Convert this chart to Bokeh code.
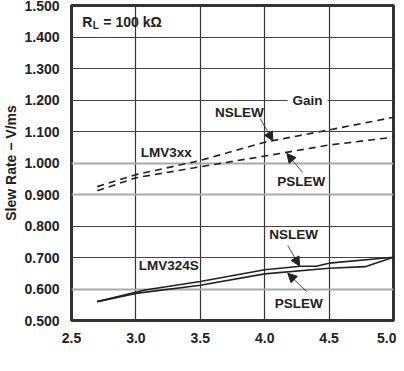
from bokeh.plotting import figure
from bokeh.models import Label, Arrow, NormalHead, FixedTicker, Grid, Range1d, PrintfTickFormatter
from bokeh.embed import file_html
from bokeh.resources import INLINE

# ---- data ----
x_3xx = [2.7, 3.0, 3.5, 4.0, 4.5, 5.0]
nslew_3xx = [0.925, 0.963, 1.008, 1.066, 1.105, 1.145]
pslew_3xx = [0.912, 0.953, 0.988, 1.022, 1.057, 1.082]

x_324s_n = [2.7, 3.07, 3.5, 4.0, 4.28, 4.4, 4.5, 5.0]
nslew_324s = [0.560, 0.597, 0.624, 0.661, 0.672, 0.672, 0.682, 0.701]
x_324s_p = [2.7, 3.0, 3.5, 4.0, 4.5, 4.78, 5.0]
pslew_324s = [0.560, 0.586, 0.612, 0.648, 0.666, 0.671, 0.701]

x_ticks = [2.5, 3.0, 3.5, 4.0, 4.5, 5.0]
y_ticks = [0.5, 0.6, 0.7, 0.8, 0.9, 1.0, 1.1, 1.2, 1.3, 1.4, 1.5]
dark_grid_y = [0.7, 0.8, 1.1, 1.2, 1.3, 1.4]
light_grid_y = [0.6, 0.9, 1.0]
grid_x = [3.0, 3.5, 4.0, 4.5]

FONT = "Liberation Sans"
INK = "#222222"

p = figure(width=396, height=369, output_backend="svg", toolbar_location=None,
           x_range=Range1d(2.5, 5.0), y_range=Range1d(0.5, 1.5),
           min_border_left=61, min_border_right=3, min_border_top=6, min_border_bottom=48)
p.margin = (-1, 0, 0, 0)
p.background_fill_color = "white"
p.outline_line_color = "#333333"
p.outline_line_width = 3

for ax in (p.xaxis[0], p.yaxis[0]):
    ax.axis_line_color = None
    ax.major_tick_line_color = None
    ax.minor_tick_line_color = None
    ax.major_label_text_font = FONT
    ax.major_label_text_font_style = "bold"
    ax.major_label_text_font_size = "14px"
    ax.major_label_text_color = INK

p.xaxis.ticker = FixedTicker(ticks=x_ticks)
p.yaxis.ticker = FixedTicker(ticks=y_ticks)
p.xaxis.formatter = PrintfTickFormatter(format="%.1f")
p.yaxis.formatter = PrintfTickFormatter(format="%.3f")
p.xaxis.major_label_standoff = 6
p.yaxis.major_label_standoff = 6

p.yaxis.axis_label = "Slew Rate \u2212 V/ms"
p.yaxis.axis_label_text_font = FONT
p.yaxis.axis_label_text_font_style = "bold"
p.yaxis.axis_label_text_font_size = "14px"
p.yaxis.axis_label_text_color = INK
p.yaxis.axis_label_standoff = 2

p.xgrid.ticker = FixedTicker(ticks=grid_x)
p.xgrid.grid_line_color = "#333333"
p.xgrid.grid_line_width = 1.2
p.ygrid.ticker = FixedTicker(ticks=dark_grid_y)
p.ygrid.grid_line_color = "#444444"
p.ygrid.grid_line_width = 1.2
p.add_layout(Grid(dimension=1, ticker=FixedTicker(ticks=light_grid_y),
                  grid_line_color="#aaaaaa", grid_line_width=2))

# ---- lines ----
p.line(x_3xx, nslew_3xx, line_color=INK, line_width=1.6, line_dash="7 5")
p.line(x_3xx, pslew_3xx, line_color=INK, line_width=1.6, line_dash="7 5")
p.line(x_324s_n, nslew_324s, line_color=INK, line_width=1.6)
p.line(x_324s_p, pslew_324s, line_color=INK, line_width=1.6)

def lab(x, y, text, size="13.5px", align="center", bg=None, xo=0, yo=0, style="bold", units="data"):
    kw = {}
    if bg:
        kw = dict(background_fill_color=bg, padding=5)
    l = Label(x=x, y=y, text=text, text_font=FONT, text_font_style=style,
              text_font_size=size, text_color=INK, text_align=align,
              text_baseline="middle", x_offset=xo, y_offset=yo,
              x_units=units, y_units=units, **kw)
    p.add_layout(l)

# R_L = 100 kOhm
lab(2.584, 1.448, "R", size="14px", align="left")
lab(2.584, 1.448, "L", size="10px", align="left", xo=10.5, yo=-4)
lab(2.584, 1.448, "= 100 k\u03a9", size="14px", align="left", xo=21)

lab(4.333, 1.2, "Gain", bg="white")
lab(3.804, 1.159, "NSLEW")
lab(3.236, 1.033, "LMV3xx")
lab(4.283, 0.940, "PSLEW")
lab(4.225, 0.773, "NSLEW")
lab(4.264, 0.554, "PSLEW")
lab(3.255, 0.675, "LMV324S")

def arrow(x0, y0, x1, y1):
    p.add_layout(Arrow(x_start=x0, y_start=y0, x_end=x1, y_end=y1,
                       line_color=INK, line_width=0.8,
                       end=NormalHead(size=9, fill_color=INK, line_color=INK)))

arrow(3.965, 1.141, 4.064, 1.070)
arrow(4.294, 0.970, 4.172, 1.030)
arrow(4.179, 0.738, 4.271, 0.673)
arrow(4.325, 0.592, 4.179, 0.650)

# x axis label: V_CC - Supply Voltage - V  (canvas units, px from top-left)
lab(127, 361, "V", size="15px", align="left", units="canvas")
lab(137, 364, "CC", size="11px", align="left", units="canvas")
lab(155, 360, "\u2212 Supply Voltage \u2212 V", size="14px", align="left", units="canvas")

open("out.html", "w").write(file_html(p, INLINE))
